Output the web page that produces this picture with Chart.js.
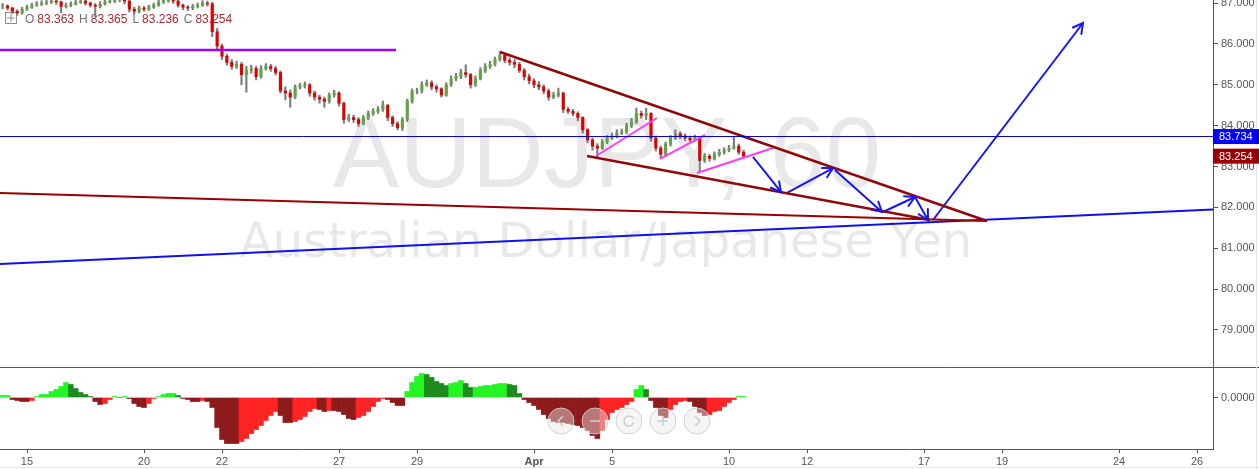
<!DOCTYPE html>
<html>
<head>
<meta charset="utf-8">
<script src="https://cdn.jsdelivr.net/npm/chart.js@4.4.1/dist/chart.umd.min.js"></script>
<style>
  html, body { margin: 0; padding: 0; background: #fff; }
  canvas { display: block; }
</style>
</head>
<body>
<canvas id="myChart" width="1259" height="469"></canvas>
<script>
// AUDJPY 60 - bars, one bar every 3 hours
// x unit = trading day (0 = Mar 15)
var firstBarDay = -0.625;
var barStep = 0.125;

var closes = [86.93,86.88,86.80,86.76,86.85,86.90,86.95,86.98,87.00,87.02,
  87.05,87.03,86.92,86.95,86.98,87.02,87.05,87.00,86.95,86.92,
  86.98,87.03,87.05,87.08,87.10,87.05,86.85,86.80,86.88,86.85,
  86.90,86.95,87.02,87.06,87.08,87.05,86.95,86.90,86.88,86.92,
  86.95,87.00,86.98,86.30,85.95,85.70,85.55,85.45,85.50,85.25,
  85.35,85.40,85.20,85.40,85.45,85.40,85.30,84.85,84.80,84.70,
  84.95,84.98,85.00,84.80,84.70,84.65,84.60,84.75,84.80,84.55,
  84.15,84.20,84.15,84.05,84.20,84.30,84.35,84.40,84.50,84.20,
  84.05,83.95,84.15,84.60,84.85,84.85,85.00,85.05,84.95,84.90,
  84.75,85.00,85.15,85.20,85.30,85.25,85.00,85.15,85.35,85.45,
  85.50,85.62,85.72,85.60,85.55,85.50,85.35,85.20,85.10,85.00,
  84.95,84.85,84.70,84.75,84.80,84.40,84.35,84.30,84.20,83.90,
  83.65,83.50,83.45,83.60,83.70,83.75,83.82,83.85,84.00,84.10,
  84.30,84.25,84.30,83.70,83.45,83.30,83.55,83.70,83.80,83.75,
  83.70,83.65,83.70,83.15,83.25,83.20,83.30,83.35,83.40,83.45,
  83.50,83.35,83.254];

var highs = [86.99,86.96,86.90,86.84,86.90,86.95,87.00,87.04,87.06,87.08,
  87.10,87.09,87.05,87.00,87.03,87.07,87.10,87.08,87.03,86.99,
  87.04,87.08,87.11,87.13,87.15,87.12,87.07,86.90,86.93,86.92,
  86.95,87.00,87.07,87.11,87.14,87.11,87.07,86.98,86.94,86.97,
  87.00,87.06,87.05,87.02,86.38,86.00,85.75,85.62,85.58,85.55,
  85.45,85.48,85.45,85.47,85.52,85.50,85.45,85.34,84.95,84.88,
  85.00,85.04,85.07,85.03,84.85,84.75,84.70,84.80,84.87,84.83,
  84.58,84.28,84.26,84.20,84.25,84.36,84.42,84.47,84.60,84.52,
  84.24,84.10,84.20,84.65,84.90,84.92,85.08,85.12,85.10,85.00,
  84.93,85.05,85.22,85.28,85.38,85.49,85.28,85.22,85.42,85.52,
  85.58,85.68,85.81,85.78,85.66,85.62,85.55,85.40,85.26,85.15,
  85.08,85.00,84.90,84.82,84.92,84.82,84.45,84.40,84.34,84.22,
  83.93,83.70,83.56,83.66,83.76,83.82,83.90,83.92,84.06,84.18,
  84.43,84.36,84.43,84.32,83.75,83.50,83.60,83.76,83.90,83.85,
  83.80,83.75,83.77,83.72,83.32,83.30,83.36,83.42,83.46,83.52,
  83.73,83.55,83.40];

var lows = [86.86,86.83,86.74,86.70,86.73,86.82,86.87,86.92,86.94,86.96,
  86.99,86.97,86.76,86.88,86.91,86.95,86.99,86.95,86.90,86.66,
  86.88,86.95,87.00,87.01,87.03,86.98,86.78,86.72,86.76,86.80,
  86.82,86.87,86.92,86.99,87.02,86.99,86.90,86.84,86.82,86.84,
  86.88,86.92,86.93,86.18,85.85,85.62,85.48,85.38,85.40,85.00,
  84.82,85.28,85.12,85.16,85.36,85.33,85.24,84.80,84.63,84.45,
  84.66,84.90,84.92,84.72,84.62,84.55,84.45,84.55,84.70,84.48,
  84.06,84.10,84.08,83.98,84.02,84.15,84.25,84.30,84.35,84.12,
  83.98,83.90,83.88,84.10,84.55,84.78,84.80,84.96,84.88,84.82,
  84.70,84.72,84.96,85.10,85.15,85.18,84.92,84.96,85.12,85.30,
  85.40,85.46,85.58,85.54,85.48,85.42,85.30,85.12,85.02,84.93,
  84.88,84.78,84.62,84.66,84.70,84.32,84.30,84.24,84.12,83.82,
  83.58,83.40,83.24,83.42,83.56,83.66,83.70,83.78,83.80,83.95,
  84.05,84.18,84.15,83.62,83.38,83.20,83.26,83.50,83.66,83.68,
  83.64,83.60,83.62,82.87,83.10,83.13,83.16,83.25,83.30,83.36,
  83.42,83.30,83.236];

// oscillator in the lower pane
var oscValues = [0.02,0.02,-0.02,-0.03,-0.04,-0.04,-0.03,0.01,0.03,0.03,
  0.06,0.08,0.11,0.15,0.13,0.09,0.05,0.03,0.01,-0.04,
  -0.07,-0.06,-0.02,0.01,0.00,0.01,-0.01,-0.06,-0.09,-0.10,
  -0.06,-0.01,0.01,0.03,0.04,0.04,0.02,-0.01,-0.02,-0.04,
  -0.04,-0.03,-0.04,-0.10,-0.30,-0.42,-0.46,-0.46,-0.46,-0.44,
  -0.41,-0.36,-0.32,-0.28,-0.23,-0.18,-0.14,-0.18,-0.25,-0.25,
  -0.24,-0.22,-0.19,-0.14,-0.11,-0.12,-0.14,-0.13,-0.13,-0.14,
  -0.17,-0.21,-0.22,-0.20,-0.18,-0.14,-0.09,-0.04,-0.01,-0.02,
  -0.05,-0.08,-0.08,0.06,0.15,0.21,0.24,0.23,0.20,0.16,
  0.14,0.12,0.14,0.15,0.17,0.14,0.10,0.10,0.11,0.12,
  0.12,0.13,0.14,0.14,0.13,0.12,0.04,-0.02,-0.05,-0.08,
  -0.12,-0.17,-0.21,-0.24,-0.25,-0.25,-0.26,-0.27,-0.28,-0.30,
  -0.33,-0.38,-0.41,-0.33,-0.22,-0.15,-0.12,-0.10,-0.07,-0.04,
  0.08,0.12,0.08,-0.03,-0.10,-0.18,-0.20,-0.12,-0.07,-0.04,
  -0.03,-0.04,-0.09,-0.15,-0.18,-0.17,-0.14,-0.13,-0.09,-0.05,
  -0.02,0.01,0.01];

var dayTicks = [0, 3, 5, 8, 10, 13, 15, 18, 20, 23, 25, 28, 30];
var dayLabels = ['15', '20', '22', '27', '29', 'Apr', '5', '10', '12', '17', '19', '24', '26'];
var priceTicks = [79, 80, 81, 82, 83, 84, 85, 86, 87];

var legendKeys = ['O', 'H', 'L', 'C'];
var legendVals = ['83.363', '83.365', '83.236', '83.254'];
var watermark = ['AUDJPY, 60', 'Australian Dollar/Japanese Yen'];

var levelPrice = 83.734;
var lastPrice = 83.254;

// drawn lines, [day, price] pairs
var purpleLevel = [[-0.692, 85.852], [9.462, 85.852]];
var wedgeTop = [[12.128, 85.803], [24.615, 81.667]];
var wedgeBottom = [[14.359, 83.258], [23.154, 81.692]];
var longRed = [[-0.692, 82.353], [24.615, 81.667]];
var longBlue = [[-0.692, 80.615], [30.41, 81.949]];
var pinkLines = [
  [[14.590, 83.258], [16.154, 84.188]],
  [[16.231, 83.185], [17.385, 83.772]],
  [[17.179, 82.842], [19.128, 83.454]]
];
var arrowPath = [
  [[18.615, 83.234], [19.333, 82.377]],
  [[19.487, 82.353], [20.667, 82.964]],
  [[20.718, 82.915], [21.923, 81.888]],
  [[21.949, 81.888], [22.769, 82.255]],
  [[22.769, 82.255], [23.103, 81.692]],
  [[23.231, 81.692], [27.077, 86.513]]
];

var xMin = -0.692, xMax = 30.41;
var priceMin = 78.094, priceMax = 87.076;
var oscMin = -0.515, oscMax = 0.305;

var FONT = '"Liberation Sans", Arial, sans-serif';

var times = closes.map(function (c, i) { return firstBarDay + i * barStep; });
var opens = [closes[0]].concat(closes.slice(0, closes.length - 1));

var wickData = times.map(function (t, i) { return { x: t, y: [lows[i], highs[i]] }; });
var bodyData = times.map(function (t, i) { return { x: t, y: [opens[i], closes[i]] }; });
var bodyColors = closes.map(function (c, i) { return c >= opens[i] ? '#62a347' : '#e00000'; });
var oscData = times.map(function (t, i) { return { x: t, y: oscValues[i] }; });
var oscColors = oscValues.map(function (v, i) {
  var prev = i > 0 ? oscValues[i - 1] : 0;
  if (v >= 0) return v >= prev ? '#22f522' : '#1f8c1f';
  return v <= prev ? '#8e1b1b' : '#ff2424';
});

function toPts(pair) { return pair.map(function (p) { return { x: p[0], y: p[1] }; }); }
function lineSet(pair, color, width) {
  return {
    type: 'line', data: toPts(pair), borderColor: color, borderWidth: width,
    pointRadius: 0, fill: false, tension: 0, yAxisID: 'y', order: 1
  };
}

var datasets = [
  { type: 'bar', data: wickData, backgroundColor: '#7d7d7d', barThickness: 1.5, grouped: false, yAxisID: 'y', order: 10 },
  { type: 'bar', data: bodyData, backgroundColor: bodyColors, barThickness: 2.5, grouped: false, yAxisID: 'y', order: 9 },
  { type: 'bar', data: oscData, backgroundColor: oscColors, barPercentage: 1, categoryPercentage: 1, grouped: false, yAxisID: 'y2', order: 10 },
  lineSet([[xMin, levelPrice], [xMax, levelPrice]], '#0000c0', 1),
  lineSet(purpleLevel, '#9b00ff', 2.5),
  lineSet(wedgeTop, '#8e0a0a', 2.5),
  lineSet(wedgeBottom, '#8e0a0a', 2.5),
  lineSet(longRed, '#990000', 2),
  lineSet(longBlue, '#1010ee', 2)
];
pinkLines.forEach(function (p) { datasets.push(lineSet(p, '#ff3cff', 2)); });
arrowPath.forEach(function (p) { datasets.push(lineSet(p, '#1515ff', 2)); });

var decor = {
  id: 'decor',
  beforeDatasetsDraw: function (chart) {
    var c = chart.ctx;
    c.save();
    // watermark
    c.fillStyle = 'rgba(120,120,120,0.17)';
    c.textAlign = 'center';
    c.textBaseline = 'alphabetic';
    c.font = '100px ' + FONT;
    c.fillText(watermark[0], 607, 187);
    c.font = '48px "DejaVu Sans", sans-serif';
    c.fillText(watermark[1], 606, 257);
    // legend icon
    c.strokeStyle = '#8c8c8c';
    c.lineWidth = 1;
    c.strokeRect(5.5, 12.5, 11, 11);
    c.beginPath();
    c.moveTo(11, 14); c.lineTo(11, 22);
    c.moveTo(7, 18); c.lineTo(15, 18);
    c.stroke();
    // OHLC legend
    c.textAlign = 'left';
    c.font = '12px ' + FONT;
    var x = 25;
    for (var k = 0; k < legendKeys.length; k++) {
      c.fillStyle = '#737373';
      c.fillText(legendKeys[k], x, 23);
      x += c.measureText(legendKeys[k]).width + 3;
      c.fillStyle = '#ad2b2b';
      c.fillText(legendVals[k], x, 23);
      x += c.measureText(legendVals[k]).width + 5;
    }
    c.restore();
  },
  afterDatasetsDraw: function (chart) {
    var c = chart.ctx, sx = chart.scales.x, sy = chart.scales.y;
    c.save();
    // arrow heads
    c.strokeStyle = '#1515ff';
    c.lineWidth = 2;
    c.lineCap = 'round';
    arrowPath.forEach(function (p) {
      var x1 = sx.getPixelForValue(p[0][0]), y1 = sy.getPixelForValue(p[0][1]);
      var x2 = sx.getPixelForValue(p[1][0]), y2 = sy.getPixelForValue(p[1][1]);
      var a = Math.atan2(y2 - y1, x2 - x1), L = 11;
      c.beginPath();
      c.moveTo(x2 - L * Math.cos(a - 0.5), y2 - L * Math.sin(a - 0.5));
      c.lineTo(x2, y2);
      c.lineTo(x2 - L * Math.cos(a + 0.5), y2 - L * Math.sin(a + 0.5));
      c.stroke();
    });
    // zoom buttons overlay
    var cx = [561, 595, 629, 663, 697], cy = 421, r = 13;
    c.lineCap = 'butt';
    cx.forEach(function (x, i) {
      c.beginPath();
      c.arc(x, cy, r, 0, Math.PI * 2);
      c.fillStyle = 'rgba(232,232,232,0.45)';
      c.fill();
      c.strokeStyle = 'rgba(205,205,205,0.9)';
      c.lineWidth = 1;
      c.stroke();
      c.strokeStyle = '#cdcdcd';
      c.lineWidth = 1.5;
      c.beginPath();
      if (i === 0) { c.moveTo(x + 2, cy - 5); c.lineTo(x - 3, cy); c.lineTo(x + 2, cy + 5); }
      if (i === 1) { c.moveTo(x - 5, cy); c.lineTo(x + 5, cy); }
      if (i === 2) { c.arc(x, cy, 5, 0.3, Math.PI * 1.85); }
      if (i === 3) { c.moveTo(x - 5, cy); c.lineTo(x + 5, cy); c.moveTo(x, cy - 5); c.lineTo(x, cy + 5); }
      if (i === 4) { c.moveTo(x - 2, cy - 5); c.lineTo(x + 3, cy); c.lineTo(x - 2, cy + 5); }
      c.stroke();
    });
    c.restore();
  },
  afterDraw: function (chart) {
    var c = chart.ctx, sx = chart.scales.x, sy = chart.scales.y, y2 = chart.scales.y2;
    var W = chart.width, ax = sy.left;
    c.save();
    // pane separator
    c.strokeStyle = '#555';
    c.lineWidth = 1;
    c.beginPath();
    c.moveTo(0, Math.round(y2.top) + 0.5);
    c.lineTo(W, Math.round(y2.top) + 0.5);
    // time axis tick marks
    var bt = Math.round(sx.top);
    dayTicks.forEach(function (d) {
      var px = Math.round(sx.getPixelForValue(d)) + 0.5;
      c.moveTo(px, bt);
      c.lineTo(px, bt + 4);
    });
    c.stroke();
    // faint outer frame
    c.strokeStyle = '#e3e6ec';
    c.beginPath();
    c.moveTo(0, chart.height - 1.5); c.lineTo(W, chart.height - 1.5);
    c.moveTo(W - 2.5, 0); c.lineTo(W - 2.5, chart.height);
    c.stroke();
    // price tags
    c.font = '11px ' + FONT;
    c.textAlign = 'left';
    c.textBaseline = 'middle';
    [[levelPrice, '#0000ff'], [lastPrice, '#990000']].forEach(function (t) {
      var yp = sy.getPixelForValue(t[0]);
      c.fillStyle = t[1];
      c.fillRect(ax, yp - 7.5, W - ax, 15);
      c.fillStyle = '#ffffff';
      c.fillText(t[0].toFixed(3), ax + 6, yp + 0.5);
    });
    c.restore();
  }
};

var ctx = document.getElementById('myChart');
var myChart = new Chart(ctx, {
  type: 'bar',
  data: { datasets: datasets },
  plugins: [decor],
  options: {
    responsive: false,
    animation: false,
    layout: { padding: 0 },
    plugins: { legend: { display: false }, tooltip: { enabled: false } },
    scales: {
      x: {
        type: 'linear', min: xMin, max: xMax, offset: false,
        grid: { display: false, drawTicks: true, tickLength: 4 },
        border: { display: true, color: '#555' },
        ticks: {
          autoSkip: false, maxRotation: 0, padding: 2, color: '#555',
          font: function (c) {
            return { family: FONT, size: 11, weight: (c.tick && c.tick.value === 13) ? 'bold' : 'normal' };
          },
          callback: function (v, i) { return dayLabels[i]; }
        },
        afterBuildTicks: function (s) { s.ticks = dayTicks.map(function (v) { return { value: v }; }); },
        afterFit: function (s) { s.height = 20; s.paddingLeft = 0; s.paddingRight = 0; }
      },
      y: {
        position: 'right', stack: 'panes', stackWeight: 367,
        min: priceMin, max: priceMax,
        grid: { display: true, drawOnChartArea: false, drawTicks: true, tickLength: 5, color: '#555' },
        border: { display: true, color: '#555' },
        ticks: {
          padding: 3, color: '#555', font: { family: FONT, size: 11 },
          callback: function (v) { return Number(v).toFixed(3); }
        },
        afterBuildTicks: function (s) { s.ticks = priceTicks.map(function (v) { return { value: v }; }); },
        afterFit: function (s) { s.width = 46; s.paddingTop = 0; s.paddingBottom = 0; }
      },
      y2: {
        position: 'right', stack: 'panes', stackWeight: 82,
        min: oscMin, max: oscMax,
        grid: { display: true, drawOnChartArea: false, drawTicks: true, tickLength: 5, color: '#555' },
        border: { display: true, color: '#555' },
        ticks: {
          padding: 3, color: '#555', font: { family: FONT, size: 11 },
          callback: function () { return '0.0000'; }
        },
        afterBuildTicks: function (s) { s.ticks = [{ value: 0 }]; },
        afterFit: function (s) { s.width = 46; s.paddingTop = 0; s.paddingBottom = 0; }
      }
    }
  }
});
</script>
</body>
</html>
